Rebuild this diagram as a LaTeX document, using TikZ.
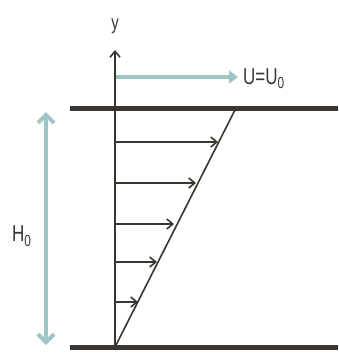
\documentclass[tikz,border=0pt]{standalone}
\usepackage{fontspec}
\setmainfont{Liberation Sans}
\usetikzlibrary{arrows.meta}
\definecolor{dark}{HTML}{3A352E}
\definecolor{teal}{HTML}{9EC6C6}
\newcommand{\lowsub}[1]{\raisebox{-5pt}{\fontsize{16}{16}\selectfont #1}}
\begin{document}
\begin{tikzpicture}[x=1pt,y=-1pt,
  plate/.style={dark,line width=5pt},
  axis/.style={dark,line width=1.6pt},
  vel/.style={dark,line width=1.6pt,-{Straight Barb[length=6pt,width=10pt,line width=1.6pt]}},
  tealarrow/.style={teal,line width=4pt},
  lbl/.style={text=dark,inner sep=0pt,font=\fontsize{23}{23}\selectfont,xscale=0.74}]
\useasboundingbox (0,0) rectangle (338,353);
\fill[white] (0,0) rectangle (338,353);
% plates
\coordinate (tl) at (70,108); \coordinate (tr) at (338,108);
\coordinate (bl) at (70,347); \coordinate (br) at (338,347);
\draw[plate] (tl) -- (tr);
\draw[plate] (bl) -- (br);
% axis
\coordinate (o) at (115,347);
\coordinate (ytip) at (115,50);
\draw[axis,-{Straight Barb[length=6pt,width=10pt,line width=1.6pt]}] (o) -- (ytip);
\node[lbl,anchor=base,font=\fontsize{20}{20}\selectfont] (ylab) at (115,30) {y};
% diagonal profile
\coordinate (top) at (236,108);
\draw[axis] (o) -- (top);
% velocity arrows
\foreach \yy/\xx [count=\i] in {142/218, 183/196, 224/174, 262/157, 302/138}{
  \coordinate (s\i) at (115,\yy);
  \coordinate (e\i) at (\xx,\yy);
  \draw[vel] (s\i) -- (e\i);
}
% top velocity
\coordinate (us) at (116,77);
\coordinate (ue) at (238,77);
\draw[tealarrow,-{Triangle[length=9pt,width=13pt]}] (us) -- (ue);
\node[lbl,anchor=base west] (ulab) at (243,84) {U=U\lowsub{0}};
% H0
\coordinate (ht) at (46,112);
\coordinate (hb) at (46,345);
\draw[tealarrow,{Straight Barb[length=8pt,width=16pt,line width=4pt]}-{Straight Barb[length=8pt,width=16pt,line width=4pt]}] (ht) -- (hb);
\node[lbl,anchor=base west] (hlab) at (12,241) {H\lowsub{0}};
\end{tikzpicture}
\end{document}
